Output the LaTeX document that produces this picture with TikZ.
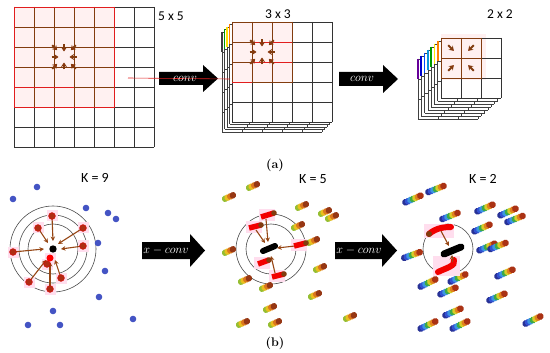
\documentclass[tikz,border=0pt]{standalone}
\usepackage{fontspec}
\newfontfamily\labfont{Carlito}
\usetikzlibrary{arrows.meta,calc}
\definecolor{gbrown}{RGB}{130,60,15}
\definecolor{gred}{RGB}{225,30,30}
\definecolor{dotblue}{RGB}{68,84,196}
\definecolor{arrbrown}{RGB}{150,70,20}
\definecolor{halo}{RGB}{255,222,238}
\definecolor{reddot}{RGB}{175,45,20}
\definecolor{rb1}{RGB}{40,50,150}
\definecolor{rb2}{RGB}{50,80,210}
\definecolor{rb3}{RGB}{60,150,225}
\definecolor{rb4}{RGB}{60,170,70}
\definecolor{rb5}{RGB}{215,205,40}
\definecolor{rb6}{RGB}{225,130,30}
\definecolor{rb7}{RGB}{170,50,20}
\definecolor{yc1}{RGB}{150,190,50}
\definecolor{yc2}{RGB}{235,190,30}
\definecolor{yc3}{RGB}{220,120,30}
\definecolor{yc4}{RGB}{150,55,20}
\tikzset{
  smallarr/.style={draw=gbrown, line width=1.8pt, -{Stealth[length=4.5pt,width=6pt,fill=red!80!black]}},
  bigarr/.style={fill=black},
  arrtext/.style={text=white, font=\fontsize{12}{13}\selectfont, inner sep=0pt},
  lab/.style={font=\labfont\fontsize{13.5}{15}\selectfont, inner sep=0pt},
  klab/.style={font=\labfont\fontsize{14}{16}\selectfont, inner sep=0pt},
  sublab/.style={font=\bfseries\fontsize{12.5}{14}\selectfont, inner sep=0pt},
  ring/.style={draw=black!70, line width=0.6pt},
  ptarr/.style={draw=arrbrown, line width=1.1pt, -{Stealth[length=4.5pt,width=4.5pt]}},
}
\newcommand\mygrid[5]{%
  \foreach \i in {0,...,#3} {\draw[#5, line width=0.6pt] (#1+\i*20,#2) -- ++(0,#4*20);}
  \foreach \j in {0,...,#4} {\draw[#5, line width=0.6pt] (#1,#2+\j*20) -- ++(#3*20,0);}
}
\newcommand\rbcap[3]{%
  \begin{scope}[shift={(#1,#2)},rotate=#3]
    \foreach \c [count=\i from 0] in {rb1,rb2,rb3,rb4,rb5,rb6,rb7} {\fill[\c] (\i*2.7-8.1,0) circle[radius=3.4pt];}
  \end{scope}}
\newcommand\yccap[3]{%
  \begin{scope}[shift={(#1,#2)},rotate=#3]
    \foreach \c [count=\i from 0] in {yc1,yc2,yc3,yc4} {\fill[\c] (\i*2.8-4.2,0) circle[radius=3.3pt];}
  \end{scope}}
\newcommand\eightarrows[3]{%
  \foreach \dx/\dy in {-1/-1,0/-1,1/-1,-1/0,1/0,-1/1,0/1,1/1} {%
    \coordinate (p) at (#1+\dx*#3,#2+\dy*#3);
    \coordinate (c) at (#1,#2);
    \draw[smallarr] ($(p)!-2.5pt!(c)$) -- ($(p)!4.5pt!(c)$);}}
\begin{document}
\begin{tikzpicture}[x=1pt,y=-1pt]
\useasboundingbox[fill=white] (0,0) rectangle (550,353);

% ---------- panel (a), grid 1 ----------
\fill[pink!22] (14,7) rectangle (114,107);
\mygrid{14}{7}{7}{7}{black!80}
\mygrid{14}{7}{5}{5}{gbrown}
\draw[gred, line width=0.8pt] (14,7) rectangle (114,107);
\draw[gred, line width=0.8pt] (14,87) -- (74,87);
\eightarrows{64}{57}{10}
\node[lab] (l55) at (171,16) {5 x 5};

% ---------- grid 2 (stack) ----------
\foreach \k/\col in {4/black!75,3/green!60!black,2/yellow!85!orange,1/orange} {
  \fill[white] (232-2.5*\k,22+2.5*\k) rectangle ++(100,100);
  \mygrid{232-2.5*\k}{22+2.5*\k}{5}{5}{black!75}
  \draw[\col, line width=1.6pt] (232-2.5*\k,22+2.5*\k) -- ++(0,20);
}
\fill[white] (232,22) rectangle (332,122);
\fill[pink!22] (232,22) rectangle (292,82);
\mygrid{232}{22}{5}{5}{black!80}
\mygrid{232}{22}{3}{3}{gbrown}
\draw[gbrown, line width=0.8pt] (232,22) rectangle (292,82);
\draw[gred, line width=0.8pt] (252,42) -- (292,42);
\draw[gred, line width=0.8pt] (252,62) -- (292,62);
\draw[gred, line width=0.8pt] (232,82) -- (252,82);
\eightarrows{262}{52}{10}
\node[lab] (l33) at (278,14) {3 x 3};

% ---------- grid 3 (stack) ----------
\foreach \k/\col in {7/violet!80!blue,6/blue!80!black,5/blue!70!cyan,4/cyan!80!blue,3/green!60!black,2/yellow!90!orange,1/orange} {
  \fill[white] (441-3.3*\k,38+3*\k) rectangle ++(60,60);
  \mygrid{441-3.3*\k}{38+3*\k}{3}{3}{black!75}
  \draw[\col, line width=1.6pt] (441-3.3*\k,38+3*\k) -- ++(0,20);
}
\fill[white] (441,38) rectangle (501,98);
\fill[pink!24] (441,34) rectangle (486,80);
\mygrid{441}{38}{3}{3}{black!80}
\mygrid{441}{38}{2}{2}{gbrown}
\draw[gbrown, line width=0.8pt] (441,38) rectangle (481,78);
\foreach \px/\py in {451/48,471/48,451/68,471/68} {
  \coordinate (q) at (\px,\py);
  \coordinate (m) at (461,58);
  \draw[smallarr] ($(q)!-4pt!(m)$) -- ($(q)!4pt!(m)$);}
\node[lab] (l22) at (500,14) {2 x 2};

% ---------- conv arrows ----------
\fill[bigarr] (159,72) -- (203,72) -- (203,65) -- (218,78.5) -- (203,92) -- (203,85) -- (159,85) -- cycle;
\coordinate (rs) at (128,78);
\coordinate (re) at (230,79);
\draw[gred, line width=0.6pt] (rs) -- (re);
\node[arrtext] (c1) at (185,78.5) {$conv$};
\fill[bigarr] (339,72) -- (383,72) -- (383,65) -- (398,79) -- (383,93) -- (383,86) -- (339,86) -- cycle;
\node[arrtext] (c2) at (362,79) {$conv$};
\node[sublab] (suba) at (275,165) {(a)};

% ---------- panel (b), K = 9 ----------
\node[klab] (k9) at (95,178) {K = 9};
\coordinate (o9) at (53,249);
\foreach \r in {43,34,25} {\draw[ring] (o9) circle[radius=\r pt];}
\foreach \x/\y in {52/216,38/228,83/228,13/252,83/246,50/258,47/264,61/278,29/282,50/289}
  {\fill[halo] (\x-5.5,\y-5.5) rectangle ++(11,11);}
\foreach \x/\y/\ex/\ey in {52/216/53/241,38/228/48/243,83/228/58/244,13/252/44/249,83/246/61/249,29/282/46/260,50/289/50/262,61/278/55/260}
  {\coordinate (s) at (\x,\y); \coordinate (e) at (\ex,\ey); \draw[ptarr] (s) -- (e);}
\foreach \x/\y in {52/216,38/228,83/228,13/252,83/246,47/264,61/278,29/282,50/289}
  {\fill[reddot] (\x,\y) circle[radius=3.4pt]; \draw[red!85!black, line width=0.5pt] (\x,\y) circle[radius=3.4pt];}
\fill[red] (50,258) circle[radius=3.5pt];
\fill[black] (o9) circle[radius=3.7pt];
\foreach \x/\y in {37/187,13/199,86/208,108/213,116/219,98/243,105/271,99/297,53/311,28/325,60/325,133/319}
  {\fill[dotblue] (\x,\y) circle[radius=3.3pt];}

% x-conv arrows
\fill[bigarr] (142,242) -- (190,242) -- (190,234) -- (205,250.5) -- (190,267) -- (190,259) -- (142,259) -- cycle;
\node[arrtext] (x1) at (166,251) {$x-conv$};
\fill[bigarr] (335,242) -- (382,242) -- (382,234) -- (397,250.5) -- (382,267) -- (382,259) -- (335,259) -- cycle;
\node[arrtext] (x2) at (359,251) {$x-conv$};

% ---------- K = 5 ----------
\node[klab] (k5) at (313,179) {K = 5};
\coordinate (o5) at (271,249);
\draw[ring] (o5) circle[radius=35pt];
\draw[ring] (o5) circle[radius=25pt];
\foreach \x/\y in {253/186,229/197,302/206,325/212,332/217,298/226,313/241,229/251,320/268,245/280,266/287,315/295,270/308,243/323,275/323,350/317}
  {\yccap{\x}{\y}{24}}
\foreach \x/\y in {267/215,254/227,299/245,262/263,277/276}
  {\fill[halo] (\x-8,\y-6) rectangle ++(16,12);}
\foreach \x/\y/\ex/\ey in {266/219/268/242,256/230/265/243,295/246/277/248,275/273/271/256}
  {\coordinate (s) at (\x,\y); \coordinate (e) at (\ex,\ey); \draw[ptarr] (s) -- (e);}
\foreach \ax/\ay/\bx/\by in {261/217/274/213,249/228/261/225,294/246/306/243,258/264/269/260,272/277/284/274}
  {\draw[red!95!black, line width=5.5pt] (\ax,\ay) -- (\bx,\by);
   \fill[gbrown] (\bx,\by) circle[radius=2.8pt];}
\draw[black, line width=6pt, line cap=round] (263,251) -- (275,246);

% ---------- K = 2 ----------
\node[klab] (k2) at (483,179) {K = 2};
\coordinate (o2) at (448,249);
\draw[ring] (o2) circle[radius=25pt];
\foreach \x/\y/\a in {413/199/24,436/189/22,450/216/22,485/208/24,508/212/24,515/219/22,482/228/24,487/247/24,498/246/22,412/255/20,505/273/24,428/283/26,458/278/26,448/291/24,497/297/24,453/312/24,428/325/26,460/325/26,533/320/26}
  {\rbcap{\x}{\y}{\a}}
\fill[halo] (424,224) rectangle (454,238);
\fill[halo] (433,256) rectangle (460,276);
\draw[red!95!black, line width=6pt, line cap=round] (429,234) .. controls (436,228) and (444,227) .. (451,227);
\fill[gbrown] (429,234) circle[radius=3pt];
\draw[red!95!black, line width=6pt, line cap=round] (438,272) .. controls (446,268) and (456,266) .. (454,260);
\coordinate (s2) at (441,231);
\coordinate (e2) at (449,246);
\draw[ptarr] (s2) -- (e2);
\coordinate (s3) at (452,262);
\coordinate (e3) at (452,255);
\draw[ptarr, line width=0.9pt] (s3) -- (e3);
\draw[black, line width=7pt, line cap=round] (444,254) -- (461,247);

\node[sublab] (subb) at (275,343) {(b)};
\end{tikzpicture}
\end{document}
